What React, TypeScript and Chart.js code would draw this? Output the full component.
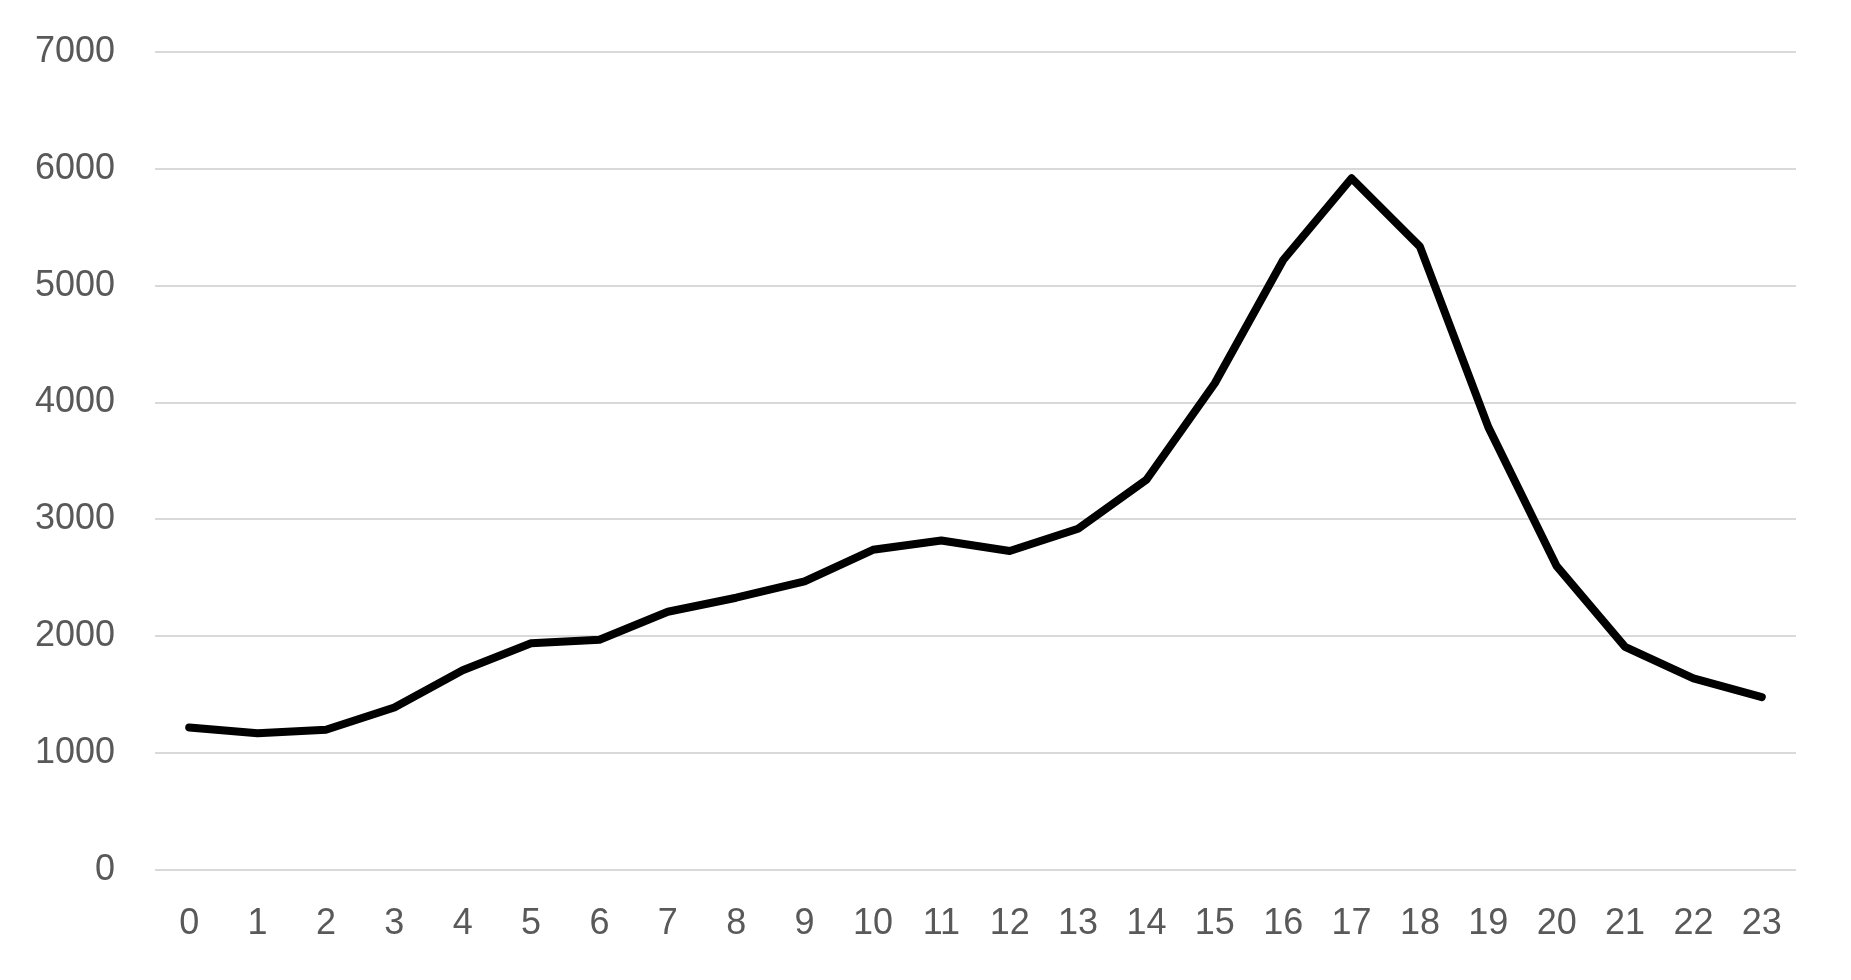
import React, { useEffect, useRef } from "react";
import { Chart, registerables } from "chart.js";

Chart.register(...registerables);

// hours of the day
const hours = ["0", "1", "2", "3", "4", "5", "6", "7", "8", "9", "10", "11", "12", "13", "14", "15", "16", "17", "18", "19", "20", "21", "22", "23"];
// values
const counts = [1220, 1170, 1200, 1390, 1710, 1940, 1970, 2210, 2330, 2470, 2740, 2820, 2730, 2920, 3340, 4165, 5220, 5920, 5335, 3790, 2600, 1910, 1640, 1480];
const yMin = 0;
const yMax = 7000;
const yStep = 1000;

const textColor = "#595959";
const gridColor = "#d9d9d9";
const fontFamily = "'Liberation Sans', Arial, sans-serif";

export default function App() {
    const chartRef = useRef<HTMLCanvasElement>(null);

    useEffect(() => {
        const config: any = {
            type: "line",
            data: {
                labels: hours,
                datasets: [
                    {
                        data: counts,
                        borderColor: "#000000",
                        backgroundColor: "#000000",
                        borderWidth: 8,
                        borderCapStyle: "round",
                        borderJoinStyle: "round",
                        pointRadius: 0,
                        fill: false,
                        tension: 0,
                    },
                ],
            },
            options: {
                animation: false,
                maintainAspectRatio: false,
                responsive: true,
                layout: {
                    padding: { top: 52, right: 55, bottom: 0, left: 0 },
                },
                plugins: {
                    legend: { display: false },
                    title: { display: false },
                    tooltip: { enabled: false },
                },
                scales: {
                    x: {
                        offset: true,
                        grid: { display: false, drawTicks: false },
                        border: { display: false },
                        ticks: {
                            color: textColor,
                            font: { family: fontFamily, size: 36 },
                            padding: 32,
                            maxRotation: 0,
                            autoSkip: false,
                        },
                        afterFit: (scale: any) => {
                            scale.height = 110;
                        },
                    },
                    y: {
                        min: yMin,
                        max: yMax,
                        grid: {
                            color: gridColor,
                            lineWidth: 2,
                            drawTicks: true,
                            tickLength: 40,
                            tickColor: "rgba(0,0,0,0)",
                        },
                        border: { display: false },
                        ticks: {
                            stepSize: yStep,
                            color: textColor,
                            font: { family: fontFamily, size: 36 },
                            padding: 0,
                            callback: (value: any) => String(value),
                        },
                        afterFit: (scale: any) => {
                            scale.width = 155;
                        },
                    },
                },
            },
        };

        const chartInstance = new Chart(chartRef.current as HTMLCanvasElement, config);

        return () => chartInstance.destroy();
    }, []);

    return (
        <div style={{ position: "fixed", top: 0, left: 0, width: "100vw", height: "100vh", background: "#ffffff" }}>
            <canvas ref={chartRef}></canvas>
        </div>
    );
}
